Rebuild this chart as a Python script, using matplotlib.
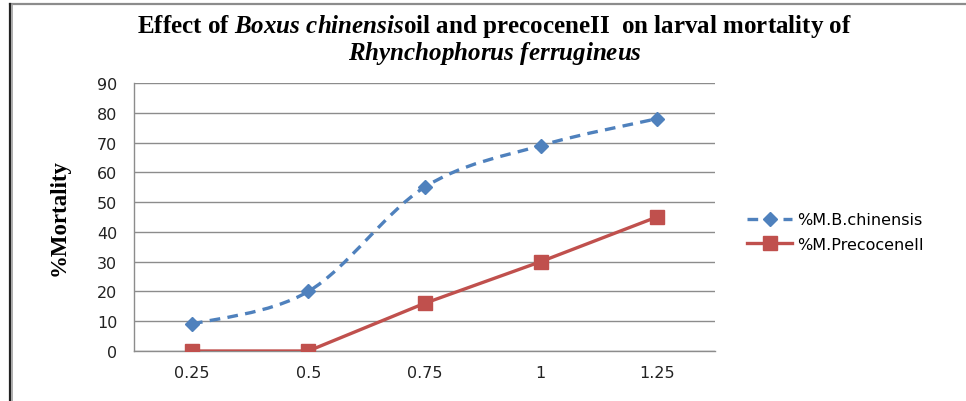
import matplotlib
matplotlib.use("Agg")
import matplotlib.pyplot as plt
import numpy as np
from matplotlib.path import Path
from matplotlib.patches import PathPatch
from matplotlib.lines import Line2D

# data
doses = ["0.25", "0.5", "0.75", "1", "1.25"]
boxus = [9, 20, 55, 69, 78]
precocene = [0, 0, 16, 30, 45]

blue = "#4F81BD"
red = "#C0504D"

plt.rcParams["mathtext.fontset"] = "custom"
plt.rcParams["mathtext.rm"] = "Liberation Serif:bold"
plt.rcParams["mathtext.it"] = "Liberation Serif:bold:italic"
plt.rcParams["mathtext.bf"] = "Liberation Serif:bold"

fig = plt.figure(figsize=(9.66, 4.02), dpi=100)
ax = fig.add_axes([134 / 966, 50 / 402, (715 - 134) / 966, (352 - 84) / 402])

x = np.arange(len(doses))


def smooth_path(xs, ys, t=1 / 6):
    # Excel-style smoothed line: bezier through the points
    xs = np.asarray(xs, float)
    ys = np.asarray(ys, float)
    verts = [(xs[0], ys[0])]
    codes = [Path.MOVETO]
    n = len(xs)
    for i in range(n - 1):
        p0 = np.array([xs[max(i - 1, 0)], ys[max(i - 1, 0)]])
        p1 = np.array([xs[i], ys[i]])
        p2 = np.array([xs[i + 1], ys[i + 1]])
        p3 = np.array([xs[min(i + 2, n - 1)], ys[min(i + 2, n - 1)]])
        c1 = p1 + (p2 - p0) * t
        c2 = p2 - (p3 - p1) * t
        verts += [tuple(c1), tuple(c2), tuple(p2)]
        codes += [Path.CURVE4] * 3
    return Path(verts, codes)


ax.add_patch(PathPatch(smooth_path(x, boxus), fill=False, edgecolor=blue,
                       lw=2.4, linestyle=(0, (3.2, 2.2)), zorder=3))
ax.plot(x, boxus, linestyle="none", marker="D", ms=7, color=blue,
        markeredgecolor=blue, zorder=4)
ax.plot(x, precocene, color=red, lw=2.4, marker="s", ms=10,
        markeredgecolor=red, zorder=4)

ax.set_xlim(-0.5, len(doses) - 0.5)
ax.set_ylim(0, 90)
ax.set_yticks(range(0, 91, 10))
ax.set_xticks(x)
ax.set_xticklabels(doses)
ax.tick_params(axis="both", length=0, labelsize=11.5, colors="#222222", pad=10)
ax.tick_params(axis="y", pad=12)
ax.yaxis.grid(True, color="#8C8C8C", lw=1)
ax.set_axisbelow(True)
for s in ["top", "right"]:
    ax.spines[s].set_visible(False)
for s in ["left", "bottom"]:
    ax.spines[s].set_color("#8C8C8C")
    ax.spines[s].set_linewidth(1)

ax.set_ylabel("%Mortality", family="Liberation Serif", fontweight="bold",
              fontsize=16.5, labelpad=20)

title_kw = dict(ha="center", va="center", fontsize=18,
                family="Liberation Serif", fontweight="bold")
fig.text(0.512, 0.934,
         r"Effect of $\it{Boxus\ chinensis}$oil and precoceneII  on larval mortality of",
         **title_kw)
fig.text(0.512, 0.866, r"$\it{Rhynchophorus\ ferrugineus}$", **title_kw)

handles = [Line2D([], [], color=blue, lw=2.4, linestyle=(0, (3.2, 2.2)),
                  marker="D", ms=7),
           Line2D([], [], color=red, lw=2.4, marker="s", ms=10)]
fig.legend(handles, ["%M.B.chinensis", "%M.PrecoceneII"],
           loc="center left", bbox_to_anchor=(733 / 966, 1 - 233 / 402),
           frameon=False, fontsize=11.5, handlelength=2.8, labelspacing=0.6,
           handletextpad=0.3)

# outer border (top and left edges of the chart frame)
fig.add_artist(Line2D([10 / 966, 1], [1 - 5 / 402, 1 - 5 / 402],
                      transform=fig.transFigure, color="#8C8C8C", lw=1.6))
fig.add_artist(Line2D([10 / 966, 10 / 966], [0, 1 - 5 / 402],
                      transform=fig.transFigure, color="#222222", lw=1.6))
fig.add_artist(Line2D([12 / 966, 12 / 966], [0, 1 - 6 / 402],
                      transform=fig.transFigure, color="#A0A0A0", lw=1.2))

fig.savefig("out.png", dpi=100)
